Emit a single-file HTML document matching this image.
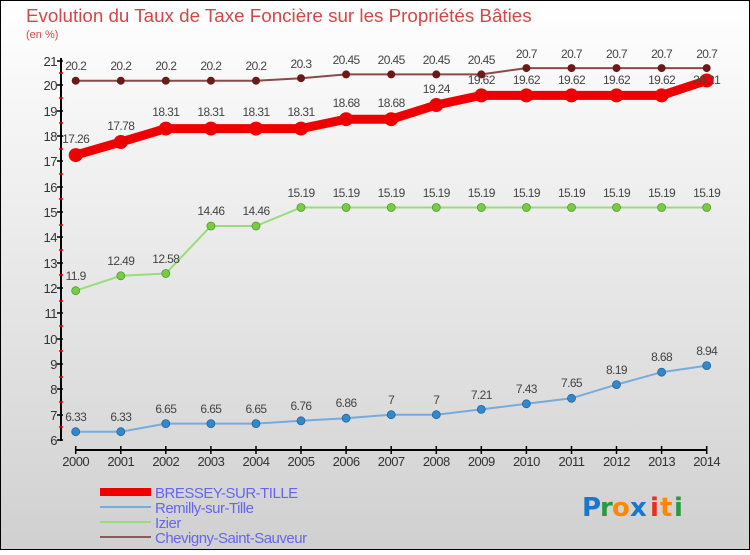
<!DOCTYPE html>
<html><head><meta charset="utf-8"><style>
html,body{margin:0;padding:0}
body{width:750px;height:550px;overflow:hidden}
</style></head><body>
<svg width="750" height="550" xmlns="http://www.w3.org/2000/svg" font-family="Liberation Sans, sans-serif">
<defs><linearGradient id="bg" x1="0" y1="0" x2="0" y2="1"><stop offset="0" stop-color="#ffffff"/><stop offset="1" stop-color="#d0d0d0"/></linearGradient></defs>
<rect x="0.5" y="0.5" width="749" height="549" fill="url(#bg)" stroke="#000"/>
<text x="26" y="22" font-size="18.8" fill="#d04848">Evolution du Taux de Taxe Foncière sur les Propriétés Bâties</text>
<text x="26" y="38" font-size="11" fill="#d04848">(en %)</text>
<g stroke="#000" stroke-width="2">
<line x1="61" y1="58" x2="61" y2="441"/>
<line x1="75" y1="450" x2="707" y2="450"/>
</g>
<g stroke="#000" stroke-width="1.5">
<line x1="57" y1="61" x2="63" y2="61"/><line x1="57" y1="85" x2="63" y2="85"/><line x1="57" y1="111" x2="63" y2="111"/><line x1="57" y1="136" x2="63" y2="136"/><line x1="57" y1="161" x2="63" y2="161"/><line x1="57" y1="187" x2="63" y2="187"/><line x1="57" y1="212" x2="63" y2="212"/><line x1="57" y1="237" x2="63" y2="237"/><line x1="57" y1="263" x2="63" y2="263"/><line x1="57" y1="288" x2="63" y2="288"/><line x1="57" y1="313" x2="63" y2="313"/><line x1="57" y1="339" x2="63" y2="339"/><line x1="57" y1="364" x2="63" y2="364"/><line x1="57" y1="389" x2="63" y2="389"/><line x1="57" y1="415" x2="63" y2="415"/><line x1="57" y1="440" x2="63" y2="440"/>
</g>
<g stroke="#e00" stroke-width="1.5">
<line x1="59" y1="73" x2="63" y2="73"/><line x1="59" y1="98" x2="63" y2="98"/><line x1="59" y1="123" x2="63" y2="123"/><line x1="59" y1="149" x2="63" y2="149"/><line x1="59" y1="174" x2="63" y2="174"/><line x1="59" y1="199" x2="63" y2="199"/><line x1="59" y1="225" x2="63" y2="225"/><line x1="59" y1="250" x2="63" y2="250"/><line x1="59" y1="275" x2="63" y2="275"/><line x1="59" y1="301" x2="63" y2="301"/><line x1="59" y1="326" x2="63" y2="326"/><line x1="59" y1="351" x2="63" y2="351"/><line x1="59" y1="377" x2="63" y2="377"/><line x1="59" y1="402" x2="63" y2="402"/><line x1="59" y1="427" x2="63" y2="427"/>
</g>
<g font-size="13" fill="#333" text-anchor="end" letter-spacing="-0.5">
<text x="57" y="66">21</text><text x="57" y="90">20</text><text x="57" y="116">19</text><text x="57" y="141">18</text><text x="57" y="166">17</text><text x="57" y="192">16</text><text x="57" y="217">15</text><text x="57" y="242">14</text><text x="57" y="268">13</text><text x="57" y="293">12</text><text x="57" y="318">11</text><text x="57" y="344">10</text><text x="57" y="369">9</text><text x="57" y="394">8</text><text x="57" y="420">7</text><text x="57" y="445">6</text>
</g>
<g stroke="#000" stroke-width="1.5">
<line x1="75.7" y1="446" x2="75.7" y2="454"/><line x1="120.8" y1="446" x2="120.8" y2="454"/><line x1="165.8" y1="446" x2="165.8" y2="454"/><line x1="210.9" y1="446" x2="210.9" y2="454"/><line x1="256" y1="446" x2="256" y2="454"/><line x1="301" y1="446" x2="301" y2="454"/><line x1="346.1" y1="446" x2="346.1" y2="454"/><line x1="391.2" y1="446" x2="391.2" y2="454"/><line x1="436.3" y1="446" x2="436.3" y2="454"/><line x1="481.3" y1="446" x2="481.3" y2="454"/><line x1="526.4" y1="446" x2="526.4" y2="454"/><line x1="571.5" y1="446" x2="571.5" y2="454"/><line x1="616.5" y1="446" x2="616.5" y2="454"/><line x1="661.6" y1="446" x2="661.6" y2="454"/><line x1="706.7" y1="446" x2="706.7" y2="454"/>
</g>
<g font-size="13" fill="#333" text-anchor="middle" letter-spacing="-0.5">
<text x="75.7" y="466">2000</text><text x="120.8" y="466">2001</text><text x="165.8" y="466">2002</text><text x="210.9" y="466">2003</text><text x="256" y="466">2004</text><text x="301" y="466">2005</text><text x="346.1" y="466">2006</text><text x="391.2" y="466">2007</text><text x="436.3" y="466">2008</text><text x="481.3" y="466">2009</text><text x="526.4" y="466">2010</text><text x="571.5" y="466">2011</text><text x="616.5" y="466">2012</text><text x="661.6" y="466">2013</text><text x="706.7" y="466">2014</text>
</g>
<polyline fill="none" stroke="#8b4a4a" stroke-width="2" points="75.7,80.7 120.8,80.7 165.8,80.7 210.9,80.7 256,80.7 301,78.2 346.1,74.4 391.2,74.4 436.3,74.4 481.3,74.4 526.4,68.1 571.5,68.1 616.5,68.1 661.6,68.1 706.7,68.1"/>
<g fill="#6b1a1a"><circle cx="75.7" cy="80.7" r="4"/><circle cx="120.8" cy="80.7" r="4"/><circle cx="165.8" cy="80.7" r="4"/><circle cx="210.9" cy="80.7" r="4"/><circle cx="256" cy="80.7" r="4"/><circle cx="301" cy="78.2" r="4"/><circle cx="346.1" cy="74.4" r="4"/><circle cx="391.2" cy="74.4" r="4"/><circle cx="436.3" cy="74.4" r="4"/><circle cx="481.3" cy="74.4" r="4"/><circle cx="526.4" cy="68.1" r="4"/><circle cx="571.5" cy="68.1" r="4"/><circle cx="616.5" cy="68.1" r="4"/><circle cx="661.6" cy="68.1" r="4"/><circle cx="706.7" cy="68.1" r="4"/></g>
<polyline fill="none" stroke="#99dd77" stroke-width="2" points="75.7,290.7 120.8,275.8 165.8,273.5 210.9,226 256,226 301,207.5 346.1,207.5 391.2,207.5 436.3,207.5 481.3,207.5 526.4,207.5 571.5,207.5 616.5,207.5 661.6,207.5 706.7,207.5"/>
<g fill="#77cc44" stroke="#559933" stroke-width="0.8"><circle cx="75.7" cy="290.7" r="4"/><circle cx="120.8" cy="275.8" r="4"/><circle cx="165.8" cy="273.5" r="4"/><circle cx="210.9" cy="226" r="4"/><circle cx="256" cy="226" r="4"/><circle cx="301" cy="207.5" r="4"/><circle cx="346.1" cy="207.5" r="4"/><circle cx="391.2" cy="207.5" r="4"/><circle cx="436.3" cy="207.5" r="4"/><circle cx="481.3" cy="207.5" r="4"/><circle cx="526.4" cy="207.5" r="4"/><circle cx="571.5" cy="207.5" r="4"/><circle cx="616.5" cy="207.5" r="4"/><circle cx="661.6" cy="207.5" r="4"/><circle cx="706.7" cy="207.5" r="4"/></g>
<polyline fill="none" stroke="#77aadd" stroke-width="2" points="75.7,431.7 120.8,431.7 165.8,423.6 210.9,423.6 256,423.6 301,420.8 346.1,418.2 391.2,414.7 436.3,414.7 481.3,409.4 526.4,403.8 571.5,398.3 616.5,384.6 661.6,372.2 706.7,365.6"/>
<g fill="#3388cc" stroke="#226699" stroke-width="0.8"><circle cx="75.7" cy="431.7" r="4"/><circle cx="120.8" cy="431.7" r="4"/><circle cx="165.8" cy="423.6" r="4"/><circle cx="210.9" cy="423.6" r="4"/><circle cx="256" cy="423.6" r="4"/><circle cx="301" cy="420.8" r="4"/><circle cx="346.1" cy="418.2" r="4"/><circle cx="391.2" cy="414.7" r="4"/><circle cx="436.3" cy="414.7" r="4"/><circle cx="481.3" cy="409.4" r="4"/><circle cx="526.4" cy="403.8" r="4"/><circle cx="571.5" cy="398.3" r="4"/><circle cx="616.5" cy="384.6" r="4"/><circle cx="661.6" cy="372.2" r="4"/><circle cx="706.7" cy="365.6" r="4"/></g>
<polyline fill="none" stroke="#ee0000" stroke-width="9" stroke-linejoin="round" points="75.7,155.1 120.8,142 165.8,128.6 210.9,128.6 256,128.6 301,128.6 346.1,119.2 391.2,119.2 436.3,105 481.3,95.4 526.4,95.4 571.5,95.4 616.5,95.4 661.6,95.4 706.7,80.5"/>
<g fill="#ee0000"><circle cx="75.7" cy="155.1" r="7"/><circle cx="120.8" cy="142" r="7"/><circle cx="165.8" cy="128.6" r="7"/><circle cx="210.9" cy="128.6" r="7"/><circle cx="256" cy="128.6" r="7"/><circle cx="301" cy="128.6" r="7"/><circle cx="346.1" cy="119.2" r="7"/><circle cx="391.2" cy="119.2" r="7"/><circle cx="436.3" cy="105" r="7"/><circle cx="481.3" cy="95.4" r="7"/><circle cx="526.4" cy="95.4" r="7"/><circle cx="571.5" cy="95.4" r="7"/><circle cx="616.5" cy="95.4" r="7"/><circle cx="661.6" cy="95.4" r="7"/><circle cx="706.7" cy="80.5" r="7"/></g>
<g font-size="12" fill="#444" text-anchor="middle" letter-spacing="-0.6">
<text x="75.7" y="70">20.2</text><text x="120.8" y="70">20.2</text><text x="165.8" y="70">20.2</text><text x="210.9" y="70">20.2</text><text x="256" y="70">20.2</text><text x="301" y="68">20.3</text><text x="346.1" y="64">20.45</text><text x="391.2" y="64">20.45</text><text x="436.3" y="64">20.45</text><text x="481.3" y="64">20.45</text><text x="526.4" y="58">20.7</text><text x="571.5" y="58">20.7</text><text x="616.5" y="58">20.7</text><text x="661.6" y="58">20.7</text><text x="706.7" y="58">20.7</text>
<text x="75.7" y="143">17.26</text><text x="120.8" y="130">17.78</text><text x="165.8" y="116">18.31</text><text x="210.9" y="116">18.31</text><text x="256" y="116">18.31</text><text x="301" y="116">18.31</text><text x="346.1" y="107">18.68</text><text x="391.2" y="107">18.68</text><text x="436.3" y="93">19.24</text><text x="481.3" y="84">19.62</text><text x="526.4" y="84">19.62</text><text x="571.5" y="84">19.62</text><text x="616.5" y="84">19.62</text><text x="661.6" y="84">19.62</text><text x="706.7" y="84">20.21</text>
<text x="75.7" y="280">11.9</text><text x="120.8" y="265">12.49</text><text x="165.8" y="263">12.58</text><text x="210.9" y="215">14.46</text><text x="256" y="215">14.46</text><text x="301" y="197">15.19</text><text x="346.1" y="197">15.19</text><text x="391.2" y="197">15.19</text><text x="436.3" y="197">15.19</text><text x="481.3" y="197">15.19</text><text x="526.4" y="197">15.19</text><text x="571.5" y="197">15.19</text><text x="616.5" y="197">15.19</text><text x="661.6" y="197">15.19</text><text x="706.7" y="197">15.19</text>
<text x="75.7" y="421">6.33</text><text x="120.8" y="421">6.33</text><text x="165.8" y="413">6.65</text><text x="210.9" y="413">6.65</text><text x="256" y="413">6.65</text><text x="301" y="410">6.76</text><text x="346.1" y="407">6.86</text><text x="391.2" y="404">7</text><text x="436.3" y="404">7</text><text x="481.3" y="399">7.21</text><text x="526.4" y="393">7.43</text><text x="571.5" y="387">7.65</text><text x="616.5" y="374">8.19</text><text x="661.6" y="361">8.68</text><text x="706.7" y="355">8.94</text>
</g>
<rect x="100" y="488" width="51" height="8" fill="#ee0000"/>
<rect x="100" y="506" width="51" height="2" fill="#77aadd"/>
<rect x="100" y="521" width="51" height="2" fill="#99dd77"/>
<rect x="100" y="536" width="51" height="2" fill="#8b5a5a"/>
<g font-size="15" fill="#6666ee" letter-spacing="-0.5">
<text x="155" y="498">BRESSEY-SUR-TILLE</text>
<text x="155" y="513">Remilly-sur-Tille</text>
<text x="155" y="528">Izier</text>
<text x="155" y="543">Chevigny-Saint-Sauveur</text>
</g>
<g font-size="26" font-family="DejaVu Sans, sans-serif" font-weight="bold">
<text x="582" y="516" fill="#1a77cc">P</text><text x="600" y="516" fill="#2a9a3a">r</text><text x="612" y="516" fill="#ff8800">o</text><text x="630" y="516" fill="#1a77cc">x</text><text x="650" y="516" fill="#e83020">i</text><text x="660" y="516" fill="#ff8800">t</text><text x="674" y="516" fill="#2a9a3a">i</text>
</g>
</svg>
</body></html>
